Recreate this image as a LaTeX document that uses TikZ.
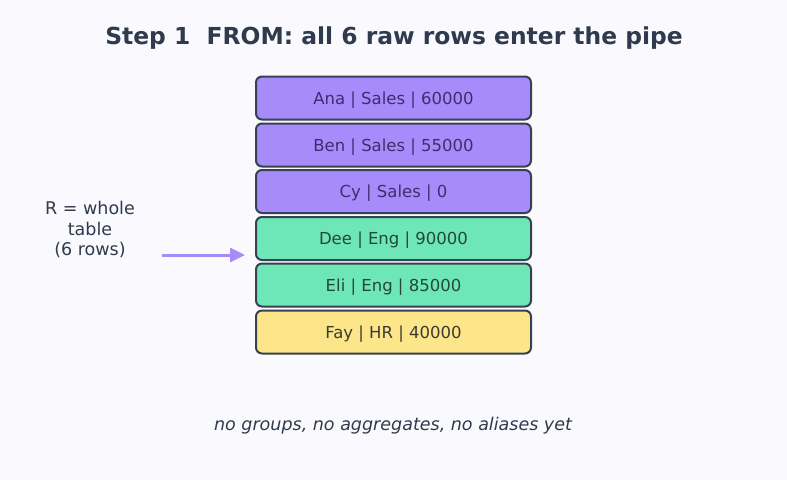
\documentclass[tikz,border=0pt]{standalone}
\usepackage{fontspec}
\setmainfont{DejaVu Sans}
\usetikzlibrary{arrows.meta}
\definecolor{bg}{HTML}{FAFAFE}
\definecolor{ink}{HTML}{2F3A4C}
\definecolor{edge}{HTML}{374151}
\definecolor{pfill}{HTML}{A78BFA}
\definecolor{gfill}{HTML}{6EE7B7}
\definecolor{yfill}{HTML}{FDE68A}
\definecolor{ptext}{HTML}{3B2F6E}
\definecolor{gtext}{HTML}{24473C}
\definecolor{ytext}{HTML}{3A3A33}
\definecolor{arr}{HTML}{A78BFA}
\tikzset{
  rowbox/.style={draw=edge, line width=2pt, rounded corners=6pt,
    minimum width=275pt, minimum height=43pt, inner sep=0pt,
    font=\fontsize{16.5}{19}\selectfont, text depth=0pt, text height=0pt},
  purplerow/.style={rowbox, fill=pfill, text=ptext},
  greenrow/.style={rowbox, fill=gfill, text=gtext},
  yellowrow/.style={rowbox, fill=yfill, text=ytext},
}
\begin{document}
\begin{tikzpicture}[x=1pt,y=-1pt]
\fill[bg] (0,0) rectangle (787,480);
\useasboundingbox (0,0) rectangle (787,480);
\node[font=\fontsize{23.4}{27}\selectfont\bfseries, text=ink] (title) at (394,38.5) {Step 1\ \ FROM: all 6 raw rows enter the pipe};
\node[purplerow] (r1) at (393.5,98) {};
\node[purplerow] (r2) at (393.5,145) {};
\node[purplerow] (r3) at (393.5,191.5) {};
\node[greenrow] (r4) at (393.5,238.5) {};
\node[greenrow] (r5) at (393.5,285) {};
\node[yellowrow] (r6) at (393.5,332) {};
\tikzset{rowtext/.style={font=\fontsize{16.5}{19}\selectfont, anchor=base, inner sep=0pt}}
\node[rowtext, text=ptext] (t1) at ([yshift=-6pt]r1.center) {Ana | Sales | 60000};
\node[rowtext, text=ptext] (t2) at ([yshift=-6pt]r2.center) {Ben | Sales | 55000};
\node[rowtext, text=ptext] (t3) at ([yshift=-6pt]r3.center) {Cy | Sales | 0};
\node[rowtext, text=gtext] (t4) at ([yshift=-6pt]r4.center) {Dee | Eng | 90000};
\node[rowtext, text=gtext] (t5) at ([yshift=-6pt]r5.center) {Eli | Eng | 85000};
\node[rowtext, text=ytext] (t6) at ([yshift=-6pt]r6.center) {Fay | HR | 40000};
\node[font=\fontsize{17.5}{20.5}\selectfont, text=ink, align=center] (lab) at (90,229.5) {R = whole\\table\\(6 rows)};
\coordinate (a0) at (162,255);
\coordinate (a1) at (245,255);
\draw[arr, line width=3pt, -{Triangle[length=15pt,width=14pt]}] (a0) -- (a1);
\node[font=\fontsize{17.5}{20}\selectfont\itshape, text=ink] (note) at (393,425.5) {no groups, no aggregates, no aliases yet};
\end{tikzpicture}
\end{document}
